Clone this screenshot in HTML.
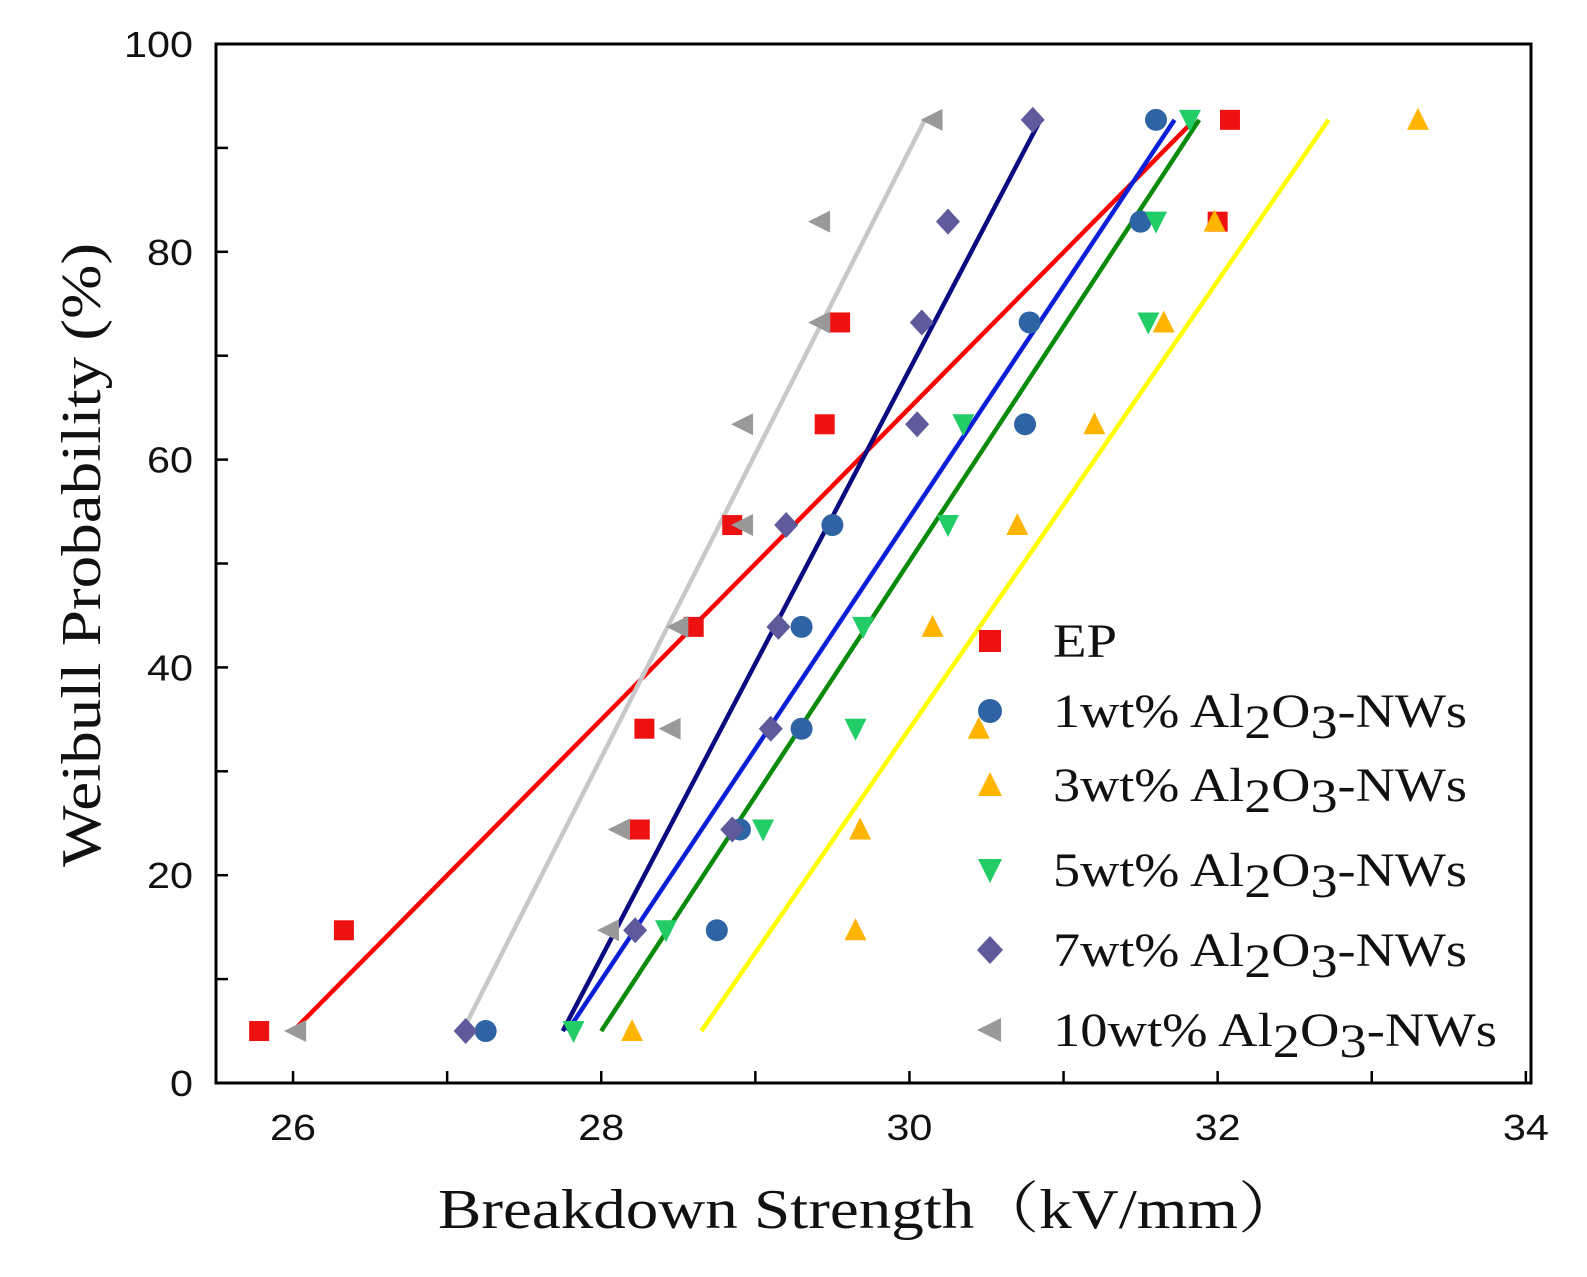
<!DOCTYPE html>
<html><head><meta charset="utf-8"><style>
body{margin:0;background:#fff}
svg{display:block}
.tk{font-family:"Liberation Sans",sans-serif;font-size:36px;fill:#111}
.lg{font-family:"Liberation Serif",serif;font-size:48px;fill:#111}
</style></head><body>
<svg id="chart" width="1587" height="1277" xmlns="http://www.w3.org/2000/svg"></svg>
<script>
const yLevels=[5,14.7,24.4,34.1,43.9,53.7,63.4,73.2,82.9,92.7];
const epX=[25.78,26.33,28.25,28.28,28.6,28.85,29.45,29.55,32.0,32.08];
const w1X=[27.25,28.75,28.9,29.3,29.3,29.5,30.75,30.78,31.5,31.6];
const w3X=[28.2,29.65,29.68,30.45,30.15,30.7,31.2,31.65,31.98,33.3];
const w5X=[27.82,28.42,29.05,29.65,29.7,30.25,30.35,31.55,31.6,31.82];
const w7X=[27.12,28.22,28.85,29.1,29.15,29.2,30.05,30.08,30.25,30.8];
const w10X=[26.02,28.05,28.12,28.45,28.5,28.92,28.92,29.42,29.42,30.15];
const fitStart=[26.0,27.78,28.65,28.0,27.75,27.1];
const fitEnd=[31.85,31.72,32.72,31.88,30.85,30.1];
const fitY=[5,92.7];
const xTicks=[26,28,30,32,34];
const yTicks=[0,20,40,60,80,100];
const names=["EP","1wt%","3wt%","5wt%","7wt%","10wt%"];
const colors=["#ee1111","#2e64a4","#ffb400","#22cc66","#5e5a9c","#999999"];
const lineColors=["#ff0000","#0a1fd6","#ffff00","#0a8a0a","#0a0a80","#c8c8c8"];
const shapes=["sq","ci","tu","td","di","tl"];
const xs=[epX,w1X,w3X,w5X,w7X,w10X];
const X=v=>216+(v-25.5)*154.1, Y=v=>1083-v*10.39;
const svg=document.getElementById('chart'),NS="http://www.w3.org/2000/svg";
function el(t,a,p){const e=document.createElementNS(NS,t);for(const k in a)e.setAttribute(k,a[k]);(p||svg).appendChild(e);return e;}
function marker(s,cx,cy,c,r){
 if(s=="sq")return el('rect',{x:cx-r,y:cy-r,width:2*r,height:2*r,fill:c});
 if(s=="ci")return el('circle',{cx,cy,r:r+1,fill:c});
 let p;
 if(s=="tu")p=[[cx,cy-r-2],[cx+r+1,cy+r],[cx-r-1,cy+r]];
 if(s=="td")p=[[cx,cy+r+2],[cx+r+1,cy-r],[cx-r-1,cy-r]];
 if(s=="di")p=[[cx,cy-r-3],[cx+r+2,cy],[cx,cy+r+3],[cx-r-2,cy]];
 if(s=="tl")p=[[cx-r-2,cy],[cx+r,cy-r-1],[cx+r,cy+r+1]];
 return el('polygon',{points:p.map(q=>q.join(',')).join(' '),fill:c});
}
const ax=el('rect',{x:216,y:44,width:1315,height:1039,fill:"none",stroke:"#000","stroke-width":3});

for(let v=26;v<=34;v++){const t=el('line',{x1:X(v),x2:X(v),y1:1083,y2:1071,stroke:"#000","stroke-width":2.5});}
for(let v=10;v<100;v+=10){const t=el('line',{x1:216,x2:228,y1:Y(v),y2:Y(v),stroke:"#000","stroke-width":2.5});}
xTicks.forEach(v=>{const t=el('text',{x:X(v)-23,y:1140,class:'tk',textLength:46,lengthAdjust:'spacingAndGlyphs'});t.textContent=v;});
yTicks.forEach(v=>{const s=String(v);const w=s.length*23;const t=el('text',{x:193-w,y:Y(v)+13,class:'tk',textLength:w,lengthAdjust:'spacingAndGlyphs'});t.textContent=s;});
let t=el('text',{x:438,y:1228,textLength:865,lengthAdjust:'spacingAndGlyphs',style:'font-family:"Liberation Serif","Noto Serif CJK SC",serif;font-size:56px;fill:#111'});
t.textContent="Breakdown Strength（kV/mm）";
t=el('text',{x:-867,y:0,textLength:624,lengthAdjust:'spacingAndGlyphs',transform:'translate(100,0) rotate(-90)',style:'font-family:"Liberation Serif",serif;font-size:56px;fill:#111'});
t.textContent="Weibull Probability (%)";
fitStart.forEach((s,i)=>{const l=el('line',{x1:X(s),y1:Y(fitY[0]),x2:X(fitEnd[i]),y2:Y(fitY[1]),stroke:lineColors[i],"stroke-width":4.5});});
xs.forEach((arr,i)=>arr.forEach((v,j)=>{const m=marker(shapes[i],X(v),Y(yLevels[j]),colors[i],10);}));
const ly=[641,711,785,870,950,1030];
const lw=[64,414,414,414,414,444];
names.forEach((n,i)=>{
 const m=marker(shapes[i],990,ly[i],colors[i],11);
 const tx=el('text',{x:1053,y:ly[i]+16,class:'lg',textLength:lw[i],lengthAdjust:'spacingAndGlyphs'});
 
 if(i==0)tx.textContent="EP";
 else tx.innerHTML=n+' Al<tspan dy="11">2</tspan><tspan dy="-11">O</tspan><tspan dy="11">3</tspan><tspan dy="-11">-NWs</tspan>';
});
</script>
</body></html>
